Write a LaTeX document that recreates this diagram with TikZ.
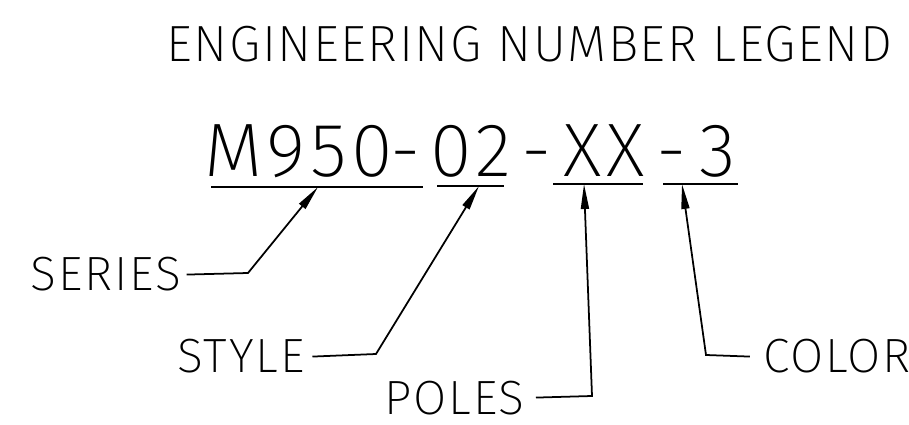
\documentclass[tikz,border=0pt]{standalone}
\usepackage{fontspec}
\newcommand\cadface{DejaVu Sans}
\IfFontExistsTF{Fira Sans Light}{\renewcommand\cadface{Fira Sans Light}}{}
\IfFontExistsTF{Fira Sans ExtraLight}{\renewcommand\cadface{Fira Sans ExtraLight}}{}
\newfontfamily\cadfont{\cadface}[Scale=MatchUppercase,LetterSpace=6]
\newfontfamily\cadtag{\cadface}[Scale=MatchUppercase,LetterSpace=4]
\newfontfamily\cadhead{\cadface}[Scale=MatchUppercase,LetterSpace=3]
\usetikzlibrary{arrows.meta}

\begin{document}
\begin{tikzpicture}[
  x=0.02cm,
  y=-0.02cm,
  >={Triangle[length=5mm,width=1.6mm]},
  heading/.style={font=\cadhead\fontsize{29}{29}\selectfont, inner sep=0pt, anchor=base},
  num/.style={font=\cadfont\fontsize{43.2}{43}\selectfont, inner sep=0pt, anchor=base},
  tag/.style={font=\cadtag\fontsize{27.4}{27}\selectfont, inner sep=0pt, anchor=base},
  link/.style={line width=1pt},
  uline/.style={line width=1pt}
]
  \useasboundingbox (0,0) rectangle (909,425);

  \node[heading] (legend) at (529.5,62) {ENGINEERING NUMBER LEGEND};

  % part number, one piece per field
  \node[num] (pnA) at (298.5,177) {M950};
  \node[num] (pnB) at (406,177) {-};
  \node[num] (pnC) at (471,177) {02};
  \node[num] (pnD) at (537,177) {-};
  \node[num] (pnE) at (604.5,177) {XX};
  \node[num] (pnF) at (672,177) {-};
  \node[num] (pnG) at (718,177) {3};

  \foreach \a/\b/\y in {211/423/187, 437/504/186, 553/643/184, 663/738/184}
    \draw[uline] (\a,\y) -- (\b,\y);

  \node[tag] (series) at (106,291) {SERIES};
  \node[tag] (style) at (241,373) {STYLE};
  \node[tag] (poles) at (454.5,414) {POLES};
  \node[tag] (color) at (837,373) {COLOR};

  \coordinate (tipA) at (318,187);
  \coordinate (tipB) at (479,186);
  \coordinate (tipC) at (584,184);
  \coordinate (tipD) at (682,184);
  \coordinate (kneeA) at (248,273);
  \coordinate (kneeB) at (376,354);
  \coordinate (kneeC) at (592,396);
  \coordinate (kneeD) at (706,355);

  \draw[link,->] ([xshift=0.1cm]series.east) -- (kneeA) -- (tipA);
  \draw[link,->] ([xshift=0.15cm]style.east) -- (kneeB) -- (tipB);
  \draw[link,->] ([xshift=0.22cm]poles.east) -- (kneeC) -- (tipC);
  \draw[link,->] ([xshift=-0.26cm]color.west) -- (kneeD) -- (tipD);
\end{tikzpicture}
\end{document}
